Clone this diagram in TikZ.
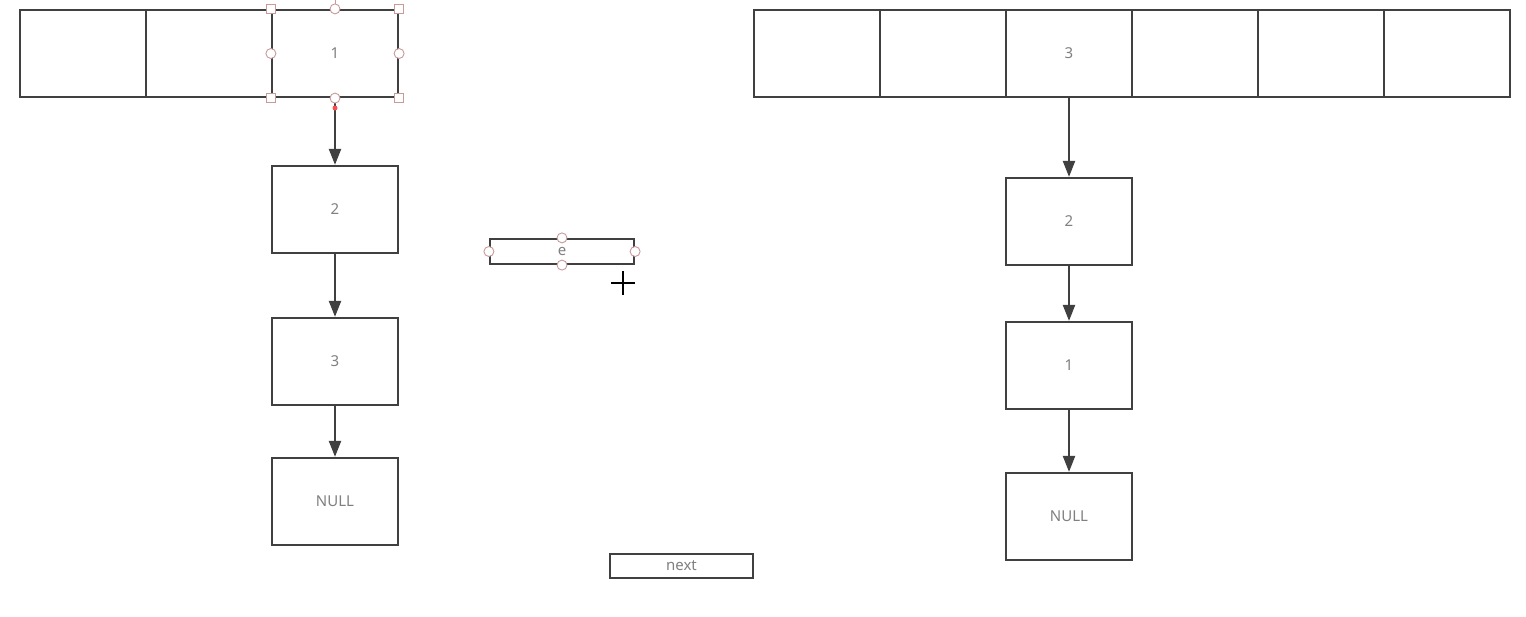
\documentclass[tikz,border=0pt]{standalone}
\usepackage{fontspec}
\setmainfont{Noto Sans}
\usetikzlibrary{arrows.meta}
\definecolor{edge}{HTML}{404040}
\definecolor{txt}{HTML}{808080}
\definecolor{handle}{HTML}{C89A9A}
\begin{document}
\begin{tikzpicture}[x=1pt,y=-1pt,
  cell/.style={draw=edge,line width=2.2pt,fill=white,minimum width=126pt,minimum height=87pt,inner sep=0pt,text=txt,font=\fontsize{15}{17}\selectfont},
  lab/.style={draw=edge,line width=2.2pt,fill=white,minimum width=143pt,minimum height=24pt,inner sep=0pt,text=txt,font=\fontsize{15}{17}\selectfont},
  link/.style={draw=edge,line width=2.2pt,-{Triangle[width=12pt,length=16pt]}},
  sq/.style={draw=handle,fill=white,line width=0.9pt,minimum size=9pt,inner sep=0pt},
  ci/.style={draw=handle,fill=white,line width=0.9pt,circle,minimum size=10pt,inner sep=0pt}]
\useasboundingbox (0,0) rectangle (1526,616);
% left array
\node[cell] (la1) at (83,53.5) {};
\node[cell] (la2) at (209,53.5) {};
\node[cell] (la3) at (335,53.5) {1};
% left chain
\node[cell] (l2) at (335,209.5) {2};
\node[cell] (l3) at (335,361.5) {3};
\node[cell] (ln) at (335,501.5) {NULL};
\draw[link] (la3.south) -- (l2.north);
\draw[link] (l2.south) -- (l3.north);
\draw[link] (l3.south) -- (ln.north);
% right array
\node[cell] (ra1) at (817,53.5) {};
\node[cell] (ra2) at (943,53.5) {};
\node[cell] (ra3) at (1069,53.5) {3};
\node[cell] (ra4) at (1195,53.5) {};
\node[cell] (ra5) at (1321,53.5) {};
\node[cell] (ra6) at (1447,53.5) {};
% right chain
\node[cell] (r2) at (1069,221.5) {2};
\node[cell] (r1) at (1069,365.5) {1};
\node[cell] (rn) at (1069,516.5) {NULL};
\draw[link] (ra3.south) -- (r2.north);
\draw[link] (r2.south) -- (r1.north);
\draw[link] (r1.south) -- (rn.north);
% floating label boxes
\node[lab,minimum width=144pt,minimum height=25pt] (e) at (562,251.5) {\raisebox{-4pt}{e}};
\node[lab] (nx) at (681.5,566) {next};
% selection handles on box 1
\draw[handle,line width=0.9pt] (la3.north) -- ++(0,-12);
\foreach \a in {north west,north east,south west,south east}
  \node[sq] at (la3.\a) {};
\foreach \a in {north,south,west,east}
  \node[ci] at (la3.\a) {};
\fill[red!70!white] (335,108) circle (2.5pt);
% selection handles on e
\foreach \a in {north,south,west,east}
  \node[ci] at (e.\a) {};
% cursor
\coordinate (cur) at (623,283);
\draw[black,line width=1.3pt] ([xshift=-12pt]cur) -- ([xshift=12pt]cur) ([yshift=-12pt]cur) -- ([yshift=12pt]cur);
\end{tikzpicture}
\end{document}
